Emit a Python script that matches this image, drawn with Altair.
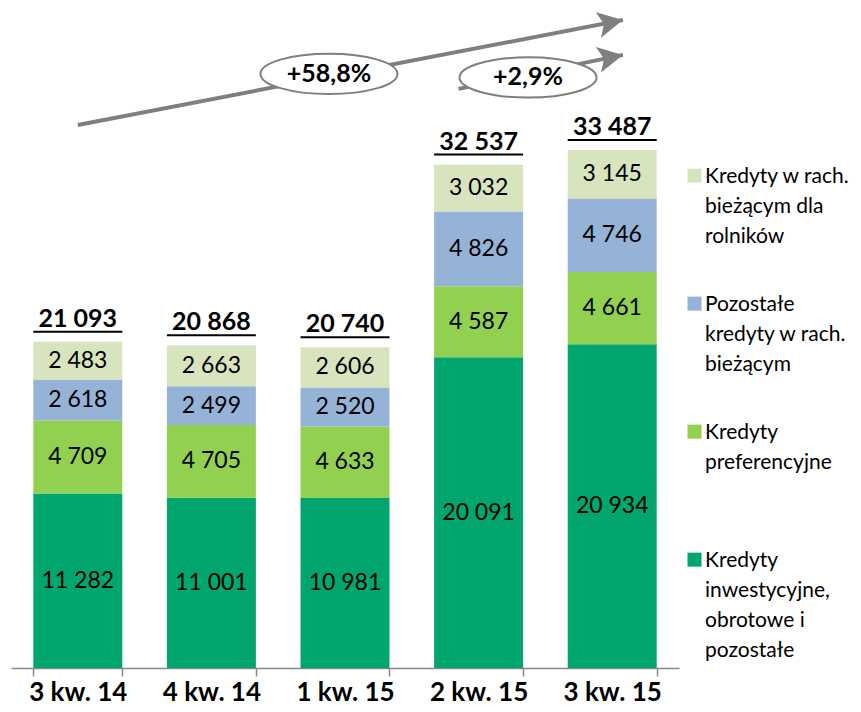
import altair as alt
import pandas as pd

# ---- data ----
cats = ["3 kw. 14", "4 kw. 14", "1 kw. 15", "2 kw. 15", "3 kw. 15"]
series = [
    "Kredyty inwestycyjne, obrotowe i pozostałe",
    "Kredyty preferencyjne",
    "Pozostałe kredyty w rach. bieżącym",
    "Kredyty w rach. bieżącym dla rolników",
]
inwest = [11282, 11001, 10981, 20091, 20934]
pref = [4709, 4705, 4633, 4587, 4661]
pozost = [2618, 2499, 2520, 4826, 4746]
roln = [2483, 2663, 2606, 3032, 3145]
totals = [21093, 20868, 20740, 32537, 33487]
colors = ["#00A66E", "#92D050", "#95B3D7", "#D7E4BD"]

legend_lines = {
    "Kredyty w rach. bieżącym dla rolników": ["Kredyty w rach.", "bieżącym dla", "rolników"],
    "Pozostałe kredyty w rach. bieżącym": ["Pozostałe", "kredyty w rach.", "bieżącym"],
    "Kredyty preferencyjne": ["Kredyty", "preferencyjne"],
    "Kredyty inwestycyjne, obrotowe i pozostałe": ["Kredyty", "inwestycyjne,", "obrotowe i", "pozostałe"],
}

# growth annotations (in data units: x = category index, y = value)
growth_labels = ["+58,8%", "+2,9%"]
arrow_x0 = [0.0, 2.85]
arrow_y0 = [35100, 37430]
arrow_x1 = [4.08, 4.08]
arrow_y1 = [41880, 39630]
ellipse_x = [1.88, 3.37]
ellipse_y = [38400, 38170]

# ---- tables ----
vals = [inwest, pref, pozost, roln]
rows = []
for si, s in enumerate(series):
    for ci, c in enumerate(cats):
        rows.append({"cat": c, "series": s, "value": vals[si][ci], "order": si})
df = pd.DataFrame(rows)
df_tot = pd.DataFrame({"cat": cats, "total": totals})

arrow_rows = []
for i in range(len(arrow_x0)):
    arrow_rows.append({"id": i, "x": arrow_x0[i], "y": arrow_y0[i]})
    arrow_rows.append({"id": i, "x": arrow_x1[i], "y": arrow_y1[i]})
df_arrows = pd.DataFrame(arrow_rows)
df_heads = pd.DataFrame({"x": arrow_x1, "y": arrow_y1})
df_ell = pd.DataFrame({"x": ellipse_x, "y": ellipse_y, "label": growth_labels})

FONT = "Lato"
GRAY = "#7f7f7f"
yscale = alt.Scale(domain=[0, 42660], nice=False, zero=True)
xq = alt.Scale(domain=[-0.5, 4.5], nice=False, zero=False)
xband = alt.Scale(domain=cats, paddingInner=0.334, paddingOuter=0.167)

legend_order = [series[3], series[2], series[1], series[0]]
label_expr = ""
for k in legend_order:
    arr = "[" + ", ".join("'" + l + "'" for l in legend_lines[k]) + "]"
    label_expr += "datum.label == '" + k + "' ? " + arr + " : "
label_expr += "datum.label"

# square symbol drawn slightly below the entry anchor (aligns with first text line)
legend_square = "M -1 0.45 L 1 0.45 L 1 2.45 L -1 2.45 Z"

xcat_plain = alt.X("cat:N", scale=xband, sort=cats, axis=None)

bars = alt.Chart(df).mark_bar().encode(
    x=alt.X("cat:N", scale=xband, sort=cats, axis=alt.Axis(
        title=None, labelAngle=0, labelFont=FONT, labelFontSize=26,
        labelFontWeight="bold", labelColor="black", domainColor="#888888",
        tickColor="#888888", domainWidth=1.5, tickWidth=1.5, tickSize=8,
        tickBand="extent", labelPadding=3)),
    y=alt.Y("value:Q", stack="zero", scale=yscale, axis=None),
    color=alt.Color("series:N", scale=alt.Scale(domain=legend_order,
                    range=[colors[3], colors[2], colors[1], colors[0]]),
                    legend=alt.Legend(
                        title=None, orient="none", legendX=673, legendY=147,
                        symbolType=legend_square, symbolSize=196,
                        symbolStrokeWidth=0,
                        labelFont=FONT, labelFontSize=21,
                        labelColor="black", labelLimit=400, labelOffset=0,
                        labelBaseline="top", gridAlign="all", rowPadding=6,
                        padding=0, labelExpr=label_expr)),
    order=alt.Order("order:Q", sort="ascending"),
)

seglabels = alt.Chart(df).transform_stack(
    stack="value", groupby=["cat"], sort=[alt.SortField("order", "ascending")],
    as_=["v0", "v1"],
).transform_calculate(
    mid="(datum.v0 + datum.v1) / 2",
    lbl="replace(format(datum.value, ','), ',', ' ')",
).mark_text(font=FONT, fontSize=23, color="black", baseline="middle").encode(
    x=xcat_plain,
    y=alt.Y("mid:Q", scale=yscale, axis=None),
    text="lbl:N",
)

underline = alt.Chart(df_tot).mark_tick(
    thickness=2, size=89, color="black", yOffset=-10, opacity=1
).encode(
    x=xcat_plain,
    y=alt.Y("total:Q", scale=yscale, axis=None),
)

tot_text = alt.Chart(df_tot).transform_calculate(
    lbl="replace(format(datum.total, ','), ',', ' ')"
).mark_text(font=FONT, fontSize=25, fontWeight="bold", color="black",
            baseline="middle", dy=-23).encode(
    x=xcat_plain,
    y=alt.Y("total:Q", scale=yscale, axis=None),
    text="lbl:N",
)

lines = alt.Chart(df_arrows).mark_line(strokeWidth=4, color=GRAY).encode(
    x=alt.X("x:Q", scale=xq, axis=None),
    y=alt.Y("y:Q", scale=yscale, axis=None),
    detail="id:N",
)

head_path = "M 0 0 L -2 -1.05 L -1.55 0 L -2 1.05 Z"
heads = alt.Chart(df_heads).mark_point(
    shape=head_path, filled=True, size=620, angle=348.6, color=GRAY, opacity=1
).encode(
    x=alt.X("x:Q", scale=xq, axis=None),
    y=alt.Y("y:Q", scale=yscale, axis=None),
)

ell_path = ("M -1 0 C -1 -0.1624 -0.5523 -0.294 0 -0.294 "
            "C 0.5523 -0.294 1 -0.1624 1 0 "
            "C 1 0.1624 0.5523 0.294 0 0.294 "
            "C -0.5523 0.294 -1 0.1624 -1 0 Z")
ellipses = alt.Chart(df_ell).mark_point(
    shape=ell_path, filled=True, fill="white", stroke=GRAY, strokeWidth=2,
    size=18770, opacity=1, fillOpacity=1, strokeOpacity=1
).encode(
    x=alt.X("x:Q", scale=xq, axis=None),
    y=alt.Y("y:Q", scale=yscale, axis=None),
)

gtext = alt.Chart(df_ell).mark_text(
    font=FONT, fontSize=25, fontWeight="bold", color="black", baseline="middle"
).encode(
    x=alt.X("x:Q", scale=xq, axis=None),
    y=alt.Y("y:Q", scale=yscale, axis=None),
    text="label:N",
)

chart = alt.layer(
    bars, seglabels, underline, tot_text, lines, heads, ellipses, gtext
).resolve_scale(x="independent").properties(
    width=668, height=660,
    autosize=alt.AutoSizeParams(type="none"),
    padding={"left": 3, "top": 0, "right": 174, "bottom": 34},
    background="white",
).configure(
    style={"guide-label": {"lineHeight": 30}}
).configure_view(stroke=None)

chart.save("out.html", embed_options={"renderer": "svg", "actions": False})
